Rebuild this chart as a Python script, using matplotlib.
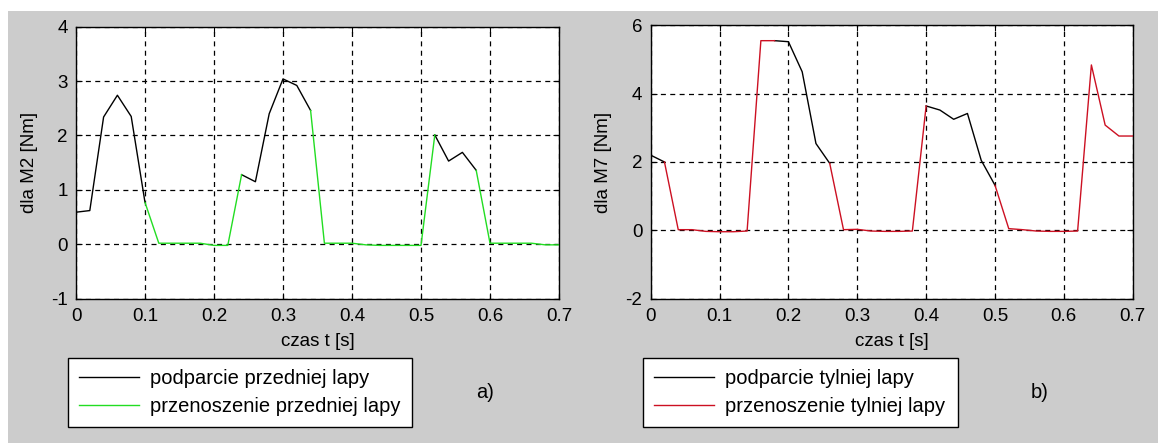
import numpy as np
import matplotlib.pyplot as plt
from matplotlib.patches import Rectangle
from matplotlib.lines import Line2D

plt.rcParams['font.family'] = ['Liberation Sans', 'DejaVu Sans']
plt.rcParams['axes.unicode_minus'] = False

# czas [s]
t = np.array([0.00, 0.02, 0.04, 0.06, 0.08, 0.10, 0.12, 0.14, 0.16, 0.18,
              0.20, 0.22, 0.24, 0.26, 0.28, 0.30, 0.32, 0.34, 0.36, 0.38,
              0.40, 0.42, 0.44, 0.46, 0.48, 0.50, 0.52, 0.54, 0.56, 0.58,
              0.60, 0.62, 0.64, 0.66, 0.68, 0.70])

# moment dla M2 [Nm]
m2 = np.array([0.59, 0.62, 2.34, 2.74, 2.35, 0.77, 0.02, 0.02, 0.02, 0.02,
               -0.02, -0.02, 1.28, 1.15, 2.40, 3.04, 2.92, 2.46, 0.02, 0.02,
               0.02, -0.01, -0.02, -0.02, -0.02, -0.02, 2.01, 1.53, 1.69, 1.36,
               0.02, 0.02, 0.02, 0.02, -0.01, -0.01])

# moment dla M7 [Nm]
m7 = np.array([2.20, 2.00, 0.02, 0.02, -0.03, -0.04, -0.04, -0.02, 5.55, 5.55,
               5.52, 4.64, 2.54, 1.96, 0.02, 0.03, -0.02, -0.03, -0.03, -0.02,
               3.64, 3.52, 3.25, 3.42, 2.05, 1.32, 0.05, 0.02, -0.02, -0.03,
               -0.03, -0.02, 4.84, 3.08, 2.76, 2.76])

# fazy ruchu (od, do)
m2_podparcie = [(0.00, 0.10), (0.24, 0.34), (0.52, 0.58)]
m2_przenoszenie = [(0.10, 0.24), (0.34, 0.52), (0.58, 0.70)]
m7_podparcie = [(0.00, 0.02), (0.18, 0.26), (0.40, 0.50)]
m7_przenoszenie = [(0.02, 0.18), (0.26, 0.40), (0.50, 0.70)]

W, H = 1158, 443
fig = plt.figure(figsize=(W / 100, H / 100), dpi=100)
fig.patch.set_facecolor('white')
fig.add_artist(Rectangle((8 / W, 0), 1 - 8 / W, 1 - 11 / H,
                         transform=fig.transFigure, facecolor='#cccccc',
                         edgecolor='none', zorder=0))

ax1 = fig.add_axes([76 / W, 1 - 298.7 / H, 483 / W, 272 / H])
ax2 = fig.add_axes([650.7 / W, 1 - 298.7 / H, 482 / W, 273.4 / H])

FS = 13.5
LFS = 14.5
green = '#22dd22'
red = '#cc1022'


def draw_phases(ax, y, phases, color):
    for a, b in phases:
        m = (t >= a - 1e-9) & (t <= b + 1e-9)
        ax.plot(t[m], y[m], color=color, lw=1.0, zorder=3)


def style(ax, ylim, yticks):
    ax.set_xlim(0, 0.7)
    ax.set_ylim(*ylim)
    ax.set_xticks([0, 0.1, 0.2, 0.3, 0.4, 0.5, 0.6, 0.7])
    ax.set_xticklabels(['0', '0.1', '0.2', '0.3', '0.4', '0.5', '0.6', '0.7'])
    ax.set_yticks(yticks)
    ax.tick_params(direction='in', top=True, right=True, length=4,
                   labelsize=FS, width=0.8)
    ax.tick_params(axis='x', pad=7)
    ax.tick_params(axis='y', pad=6)
    ax.grid(True, color='black', lw=0.9, linestyle=(0, (4, 3.5)))
    for s in ax.spines.values():
        s.set_linewidth(1.0)
    ax.set_xlabel('czas t [s]', fontsize=FS)
    ax.xaxis.set_label_coords(0.5, -0.125)


draw_phases(ax1, m2, m2_podparcie, 'black')
draw_phases(ax1, m2, m2_przenoszenie, green)
style(ax1, (-1, 4), [-1, 0, 1, 2, 3, 4])
ax1.set_ylabel('dla M2 [Nm]', fontsize=FS)
ax1.yaxis.set_label_coords(-0.078, 0.5)

draw_phases(ax2, m7, m7_podparcie, 'black')
draw_phases(ax2, m7, m7_przenoszenie, red)
style(ax2, (-2, 6), [-2, 0, 2, 4, 6])
ax2.set_ylabel('dla M7 [Nm]', fontsize=FS)
ax2.yaxis.set_label_coords(-0.08, 0.5)


def add_legend(labels, color, x0, x1):
    handles = [Line2D([], [], color='black', lw=1.0),
               Line2D([], [], color=color, lw=1.0)]
    leg = fig.legend(handles, labels, loc='upper left',
                     bbox_to_anchor=(x0 / W, 1 - 362 / H, (x1 - x0) / W, 0.01),
                     mode='expand', fontsize=LFS, frameon=True, fancybox=False,
                     edgecolor='black', framealpha=1, borderaxespad=0,
                     handlelength=3.0, handletextpad=0.5, labelspacing=0.45,
                     borderpad=0.55)
    leg.get_frame().set_linewidth(1.0)
    return leg


add_legend(['podparcie przedniej lapy', 'przenoszenie przedniej lapy'], green, 68, 412)
add_legend(['podparcie tylniej lapy', 'przenoszenie tylniej lapy'], red, 643, 958)

fig.text(485 / W, 1 - 393 / H, 'a)', fontsize=LFS, ha='center', va='center')
fig.text(1040 / W, 1 - 393 / H, 'b)', fontsize=LFS, ha='center', va='center')

fig.savefig('out.png', dpi=100, facecolor=fig.get_facecolor())
